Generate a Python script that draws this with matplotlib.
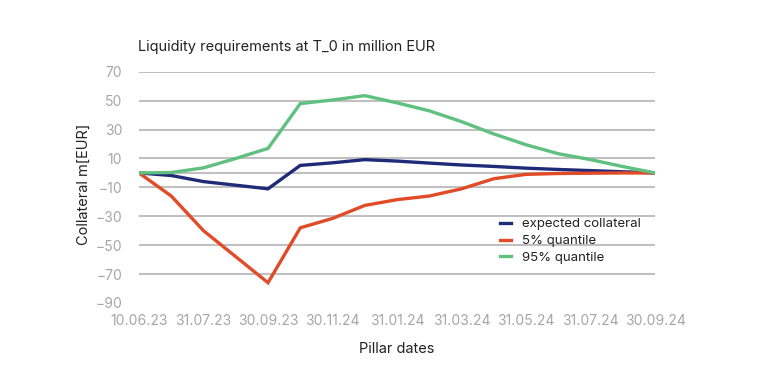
import numpy as np
import matplotlib.pyplot as plt

plt.rcParams['font.family'] = ['Inter', 'DejaVu Sans']

# pillar dates (category axis, every second one is labelled)
dates = ['10.06.23', '30.06.23', '31.07.23', '31.08.23', '30.09.23', '31.10.23',
         '30.11.24', '31.12.23', '31.01.24', '29.02.24', '31.03.24', '30.04.24',
         '31.05.24', '30.06.24', '31.07.24', '31.08.24', '30.09.24']

expected = [0, -1.8, -6, -8.5, -11, 5.2, 7, 9.2, 8.2, 6.8, 5.5, 4.5, 3.3, 2.4, 1.6, 0.8, 0]
q05 = [0, -16, -40, -58, -76, -38, -31.5, -22.5, -18.5, -16, -11, -4, -1, -0.4, -0.2, 0, 0]
q95 = [0, 0.3, 3.5, 10, 17, 48, 50.5, 53.5, 48.5, 43, 35.5, 27, 19.5, 13.3, 9.2, 4.4, 0]

series = [('expected collateral', expected, '#1f2a78'),
          ('5% quantile', q05, '#e14b27'),
          ('95% quantile', q95, '#5fc07f')]

yticks = np.arange(-90, 71, 20)

fig = plt.figure(figsize=(7.68, 3.82), dpi=100)
ax = fig.add_axes([0.181, 0.207, 0.672, 0.605])

x = np.arange(len(dates))
# gridlines (none at the bottom tick, one extra at zero)
for g in list(yticks[1:]) + [0]:
    ax.axhline(g, color='#c0c0c0', lw=1.5, zorder=1)

for name, vals, col in series:
    ax.plot(x, vals, color=col, lw=2.4, label=name, zorder=3, solid_joinstyle='miter')

ax.set_xlim(0, len(dates) - 1)
ax.set_ylim(-90, 70)
ax.set_yticks(yticks)
ax.set_xticks(x[::2])
ax.set_xticklabels(dates[::2])
ax.tick_params(length=0, labelsize=10, colors='#a6a6a6')
ax.tick_params(axis='y', pad=12)
ax.tick_params(axis='x', pad=8)
for s in ax.spines.values():
    s.set_visible(False)

ax.set_ylabel('Collateral m[EUR]', fontsize=10.5, color='#222222')
ax.yaxis.set_label_coords(-0.094, 0.515)
ax.set_xlabel('Pillar dates', fontsize=10.5, color='#222222', labelpad=10)
fig.text(0.18, 0.878, 'Liquidity requirements at T_0 in million EUR',
         fontsize=10.5, color='#222222', va='center', ha='left')

leg = ax.legend(loc='upper left', bbox_to_anchor=(0.69, 0.39), frameon=False,
                fontsize=9.5, handlelength=0.8, handletextpad=0.8,
                labelspacing=0.35, borderaxespad=0)
for t in leg.get_texts():
    t.set_color('#222222')

fig.savefig('out.png', dpi=100)
